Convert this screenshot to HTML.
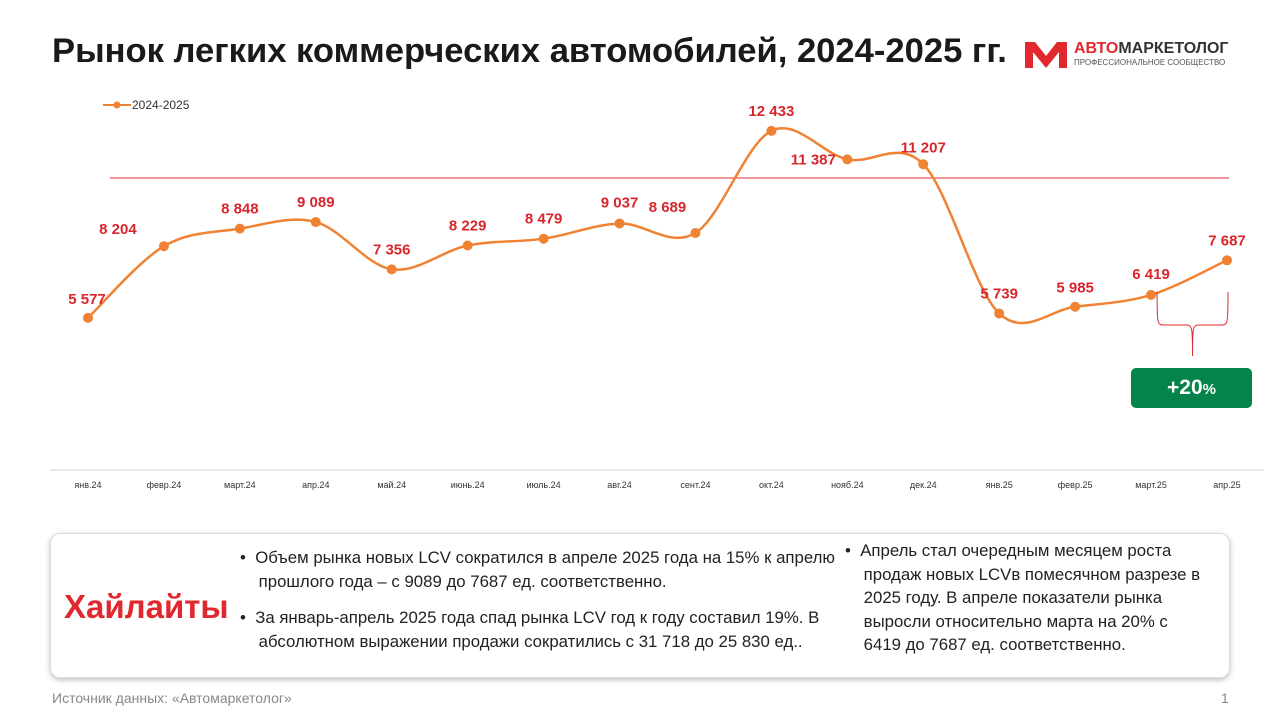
<!DOCTYPE html>
<html><head><meta charset="utf-8"><style>
body{margin:0;width:1280px;height:720px;background:#fff;font-family:"Liberation Sans",sans-serif;position:relative;overflow:hidden}
.abs{position:absolute}
#title{left:52px;top:32px;font-size:34.6px;font-weight:bold;color:#1a1a1a;letter-spacing:0;white-space:nowrap}
#hl-box{left:50px;top:533px;width:1178px;height:143px;border:1px solid #ddd;border-radius:10px;box-shadow:0 2px 6px rgba(0,0,0,.25)}
.t{font-size:16.8px;color:#222;line-height:23.5px;white-space:nowrap}
</style></head><body>
<div class="abs" id="title">Рынок легких коммерческих автомобилей, 2024-2025 гг.</div>
<div class="abs" style="left:1025px;top:40px;width:210px;height:30px">
<svg width="42" height="28" style="position:absolute;left:0;top:0"><path d="M0 2 L10 2 L21 16 L32 2 L42 2 L42 28 L34 28 L34 12 L21 28 L8 12 L8 28 L0 28Z" fill="#e0282e"/></svg>
<div class="abs" style="left:49px;top:0;font-size:16px;font-weight:bold;color:#333;white-space:nowrap"><span style="color:#e0282e">АВТО</span>МАРКЕТОЛОГ</div>
<div class="abs" style="left:49px;top:18px;font-size:8px;color:#555;white-space:nowrap">ПРОФЕССИОНАЛЬНОЕ СООБЩЕСТВО</div>
</div>
<svg id="chart" class="abs" style="left:0;top:0" width="1280" height="520"></svg>
<div class="abs" style="left:1131px;top:368px;width:121px;height:40px;background:#04844a;border-radius:5px;color:#fff;font-weight:bold;font-size:21px;text-align:center;line-height:40px">+20<span style="font-size:15px">%</span></div>
<div class="abs" id="hl-box"></div>
<div class="abs" style="left:64px;top:588px;font-size:33px;font-weight:bold;color:#e0282e">Хайлайты</div>
<div class="abs t" style="left:240px;top:546px">•&nbsp;&nbsp;Объем рынка новых LCV сократился в апреле 2025 года на 15% к апрелю<br>&nbsp;&nbsp;&nbsp;&nbsp;прошлого года – с 9089 до 7687 ед. соответственно.</div>
<div class="abs t" style="left:240px;top:606px">•&nbsp;&nbsp;За январь-апрель 2025 года спад рынка LCV год к году составил 19%. В<br>&nbsp;&nbsp;&nbsp;&nbsp;абсолютном выражении продажи сократились с 31 718 до 25 830 ед..</div>
<div class="abs t" style="left:845px;top:539px">•&nbsp;&nbsp;Апрель стал очередным месяцем роста<br>&nbsp;&nbsp;&nbsp;&nbsp;продаж новых LCVв помесячном разрезе в<br>&nbsp;&nbsp;&nbsp;&nbsp;2025 году. В апреле показатели рынка<br>&nbsp;&nbsp;&nbsp;&nbsp;выросли относительно марта на 20% с<br>&nbsp;&nbsp;&nbsp;&nbsp;6419 до 7687 ед. соответственно.</div>
<div class="abs" style="left:52px;top:690px;font-size:14px;color:#888">Источник данных: «Автомаркетолог»</div>
<div class="abs" style="left:1221px;top:690px;font-size:14px;color:#888">1</div>
<script>
const categories=["янв.24","февр.24","март.24","апр.24","май.24","июнь.24","июль.24","авг.24","сент.24","окт.24","нояб.24","дек.24","янв.25","февр.25","март.25","апр.25"];
const values=[5577,8204,8848,9089,7356,8229,8479,9037,8689,12433,11387,11207,5739,5985,6419,7687];
const valueLabels=["5 577","8 204","8 848","9 089","7 356","8 229","8 479","9 037","8 689","12 433","11 387","11 207","5 739","5 985","6 419","7 687"];
const refLineValue=10704;
const seriesName="2024-2025";
const labelOffsets=[[-1,-19],[-46,-17],[0,-20],[0,-20],[0,-20],[0,-20],[0,-20],[0,-21],[-28,-26],[0,-20],[-34,0],[0,-17],[0,-20],[0,-19],[0,-21],[0,-20]];
const NS="http://www.w3.org/2000/svg",svg=document.getElementById('chart');
const x=i=>88+i*(1227-88)/(categories.length-1);
const y=v=>470-v*0.02728;
function mk(t,a){const e=document.createElementNS(NS,t);for(const k in a)e.setAttribute(k,a[k]);svg.appendChild(e);return e;}
let e=mk('line',{x1:50,x2:1264,y1:470,y2:470,stroke:'#d0d0d0','stroke-width':1});


e=mk('line',{x1:110,x2:1229,y1:y(refLineValue),y2:y(refLineValue),stroke:'#e0282e','stroke-width':1});


categories.forEach((c,i)=>{const t=mk('text',{x:x(i),y:488,'text-anchor':'middle','font-size':9,fill:'#333'});t.textContent=c;

});
const P=values.map((v,i)=>[x(i),y(v)]);
let d='M'+P[0][0]+' '+P[0][1];
for(let i=0;i<P.length-1;i++){const p0=P[Math.max(0,i-1)],p1=P[i],p2=P[i+1],p3=P[Math.min(P.length-1,i+2)];const k=1/6;
d+=` C${p1[0]+(p2[0]-p0[0])*k} ${p1[1]+(p2[1]-p0[1])*k} ${p2[0]-(p3[0]-p1[0])*k} ${p2[1]-(p3[1]-p1[1])*k} ${p2[0]} ${p2[1]}`;}
e=mk('path',{d:d,fill:'none',stroke:'#ef8233','stroke-width':2.5});


P.forEach((p,i)=>{const c=mk('circle',{cx:p[0],cy:p[1],r:5,fill:'#ef8233'});


const t=mk('text',{x:p[0]+labelOffsets[i][0],y:p[1]+labelOffsets[i][1]+5,'text-anchor':'middle','font-size':15,'font-weight':'bold',fill:'#d9262c'});t.textContent=valueLabels[i];

});
e=mk('line',{x1:103,x2:131,y1:105,y2:105,stroke:'#ef8233','stroke-width':2});


e=mk('circle',{cx:117,cy:105,r:3.5,fill:'#ef8233'});


e=mk('text',{x:132,y:109,'font-size':12,fill:'#333'});e.textContent=seriesName;


const bx1=x(14)+6,bx2=x(15)+1,mid=(bx1+bx2)/2;
e=mk('path',{d:`M${bx1} 292 C${bx1} 325 ${bx1} 325 ${bx1+8} 325 L${mid-6} 325 C${mid} 325 ${mid} 330 ${mid} 356 C${mid} 330 ${mid} 325 ${mid+6} 325 L${bx2-8} 325 C${bx2} 325 ${bx2} 325 ${bx2} 292`,fill:'none',stroke:'#e0282e','stroke-width':1});


</script>
</body></html>
